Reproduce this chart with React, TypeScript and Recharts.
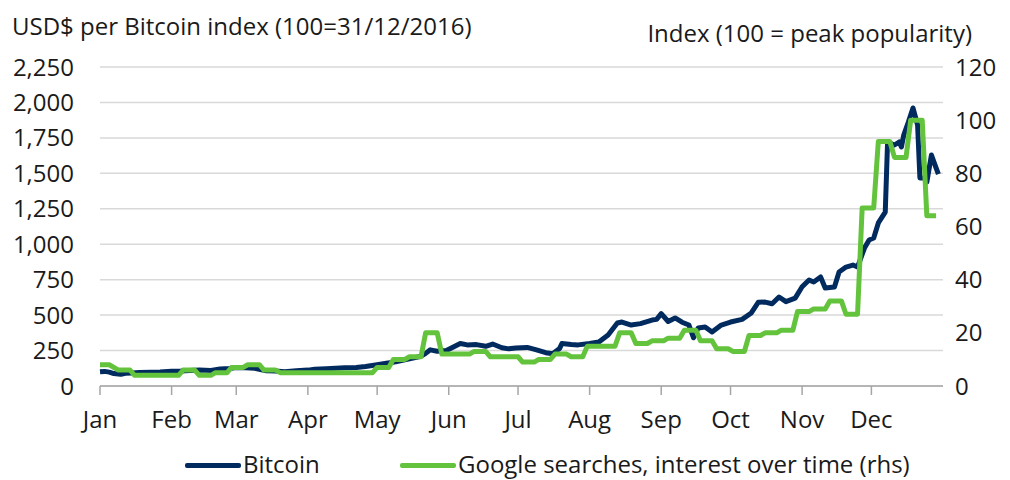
import React from 'react';
import { LineChart, Line, XAxis, YAxis, CartesianGrid } from 'recharts';

const FONT = '"Open Sans", "Noto Sans", sans-serif';
const TEXT = '#1a1a1a';
const NAVY = '#012a5e';
const GREEN = '#63c33c';
const FS = 24;

const MONTHS = ['Jan', 'Feb', 'Mar', 'Apr', 'May', 'Jun', 'Jul', 'Aug', 'Sep', 'Oct', 'Nov', 'Dec'];
const MONTH_START_DAYS = [0, 31, 59, 90, 120, 151, 181, 212, 243, 273, 304, 334];

const LEFT_TICKS = [0, 250, 500, 750, 1000, 1250, 1500, 1750, 2000, 2250];
const RIGHT_TICKS = [0, 20, 40, 60, 80, 100, 120];

// Bitcoin index (100 = 31/12/2016), day of year 2017
const BTC_DAYS = [
  0, 2, 4, 6, 9, 11, 14, 17, 22, 26, 31, 35, 39, 43, 48, 52, 56, 59, 63, 67, 72, 76, 80, 85, 90, 93,
  98, 102, 106, 111, 115, 120, 124, 128, 132, 135, 139, 141, 143, 146, 150, 153, 156, 159, 163, 167,
  170, 174, 177, 180, 185, 189, 193, 196, 199, 200, 204, 207, 212, 216, 220, 224, 226, 230, 234, 239,
  241, 243, 246, 249, 252, 255, 257, 259, 262, 265, 269, 273, 278, 282, 285, 288, 291, 294, 297, 301,
  304, 307, 309, 312, 314, 318, 320, 323, 326, 328, 331, 333, 335, 337, 340, 341, 344, 346, 347, 348,
  350, 352, 354, 355, 357, 358, 360, 362, 363,
];
const BTC_VALUES = [
  100, 103, 98, 88, 82, 90, 92, 95, 97, 99, 104, 106, 110, 112, 110, 120, 124, 130, 128, 125, 108, 105,
  100, 108, 112, 118, 122, 126, 128, 130, 138, 150, 160, 170, 185, 195, 210, 230, 255, 245, 250, 275,
  300, 290, 292, 280, 296, 270, 262, 268, 272, 255, 235, 228, 265, 300, 292, 290, 300, 310, 360, 444,
  451, 430, 440, 465, 470, 510, 455, 480, 450, 430, 340, 409, 416, 381, 430, 451, 470, 515, 590, 592,
  580, 628, 595, 620, 700, 748, 734, 769, 691, 698, 804, 839, 853, 839, 973, 1030, 1044, 1150, 1227,
  1721, 1700, 1721, 1686, 1770, 1862, 1961, 1841, 1467, 1467, 1439, 1629, 1538, 1495,
];

// Google searches, weekly interest over time (100 = peak popularity), weeks starting 1 Jan 2017
const GOOGLE_WEEKLY = [
  8, 6, 4, 4, 4, 6, 4, 5, 7, 8, 6, 5, 5, 5, 5, 5, 5, 7, 10, 11, 20, 12, 12, 13, 11, 11,
  9, 10, 12, 11, 15, 15, 20, 16, 17, 18, 21, 17, 14, 13, 19, 20, 21, 28, 29, 32, 27, 67, 92, 86,
  100, 64,
];
const LAST_DAY = 362;

const btcData = BTC_DAYS.map((d, i) => ({ d, v: BTC_VALUES[i] }));

const googleData: { d: number; g: number }[] = [];
GOOGLE_WEEKLY.forEach((g, k) => {
  const start = k === 0 ? 0 : 7 * k + 1;
  const end = k === 0 ? 4 : Math.min(7 * k + 6, LAST_DAY);
  googleData.push({ d: start, g });
  googleData.push({ d: end, g });
});

const tickStyle = { fill: TEXT, fontSize: FS, fontFamily: FONT };

export default function App() {
  return (
    <div
      style={{
        position: 'absolute',
        left: 0,
        top: 0,
        width: 1010,
        height: 480,
        background: '#fff',
        fontFamily: FONT,
        color: TEXT,
        overflow: 'hidden',
      }}
    >
      <LineChart width={1010} height={480} margin={{ top: 67, right: 0, bottom: 0, left: 0 }}>
        <CartesianGrid vertical={false} stroke="#d9d9d9" strokeWidth={1.5} yAxisId="left" />
        <XAxis
          dataKey="d"
          type="number"
          domain={[0, 365]}
          ticks={MONTH_START_DAYS}
          tickFormatter={(d: number) => MONTHS[MONTH_START_DAYS.indexOf(d)]}
          height={94}
          interval={0}
          axisLine={{ stroke: '#a6a6a6', strokeWidth: 1.5 }}
          tickLine={{ stroke: '#a6a6a6', strokeWidth: 1.5 }}
          tickSize={9}
          tickMargin={16}
          tick={tickStyle}
        />
        <YAxis
          yAxisId="left"
          orientation="left"
          width={100}
          domain={[0, 2250]}
          ticks={LEFT_TICKS}
          interval={0}
          axisLine={false}
          tickLine={false}
          tickSize={0}
          tickMargin={26}
          tick={tickStyle}
          tickFormatter={(v: number) => v.toLocaleString('en-US')}
        />
        <YAxis
          yAxisId="right"
          orientation="right"
          width={67}
          domain={[0, 120]}
          ticks={RIGHT_TICKS}
          interval={0}
          axisLine={false}
          tickLine={false}
          tickSize={0}
          tickMargin={12}
          tick={tickStyle}
        />
        <Line
          yAxisId="left"
          data={btcData}
          dataKey="v"
          type="linear"
          stroke={NAVY}
          strokeWidth={5}
          strokeLinejoin="round"
          dot={false}
          activeDot={false}
          isAnimationActive={false}
        />
        <Line
          yAxisId="right"
          data={googleData}
          dataKey="g"
          type="linear"
          stroke={GREEN}
          strokeWidth={5}
          strokeLinejoin="round"
          dot={false}
          activeDot={false}
          isAnimationActive={false}
        />
      </LineChart>

      <div style={{ position: 'absolute', left: 12, top: 9, fontSize: FS, lineHeight: '33px', whiteSpace: 'nowrap' }}>
        USD$ per Bitcoin index (100=31/12/2016)
      </div>
      <div style={{ position: 'absolute', right: 38, top: 16, fontSize: FS, lineHeight: '33px', whiteSpace: 'nowrap' }}>
        Index (100 = peak popularity)
      </div>

      <div style={{ position: 'absolute', left: 185, top: 463, width: 56, height: 5, background: NAVY, borderRadius: 2 }} />
      <div style={{ position: 'absolute', left: 243, top: 450, fontSize: FS, lineHeight: '28px', whiteSpace: 'nowrap' }}>
        Bitcoin
      </div>
      <div style={{ position: 'absolute', left: 400, top: 463, width: 56, height: 5, background: GREEN, borderRadius: 2 }} />
      <div style={{ position: 'absolute', left: 458, top: 450, fontSize: FS, lineHeight: '28px', whiteSpace: 'nowrap' }}>
        Google searches, interest over time (rhs)
      </div>
    </div>
  );
}
